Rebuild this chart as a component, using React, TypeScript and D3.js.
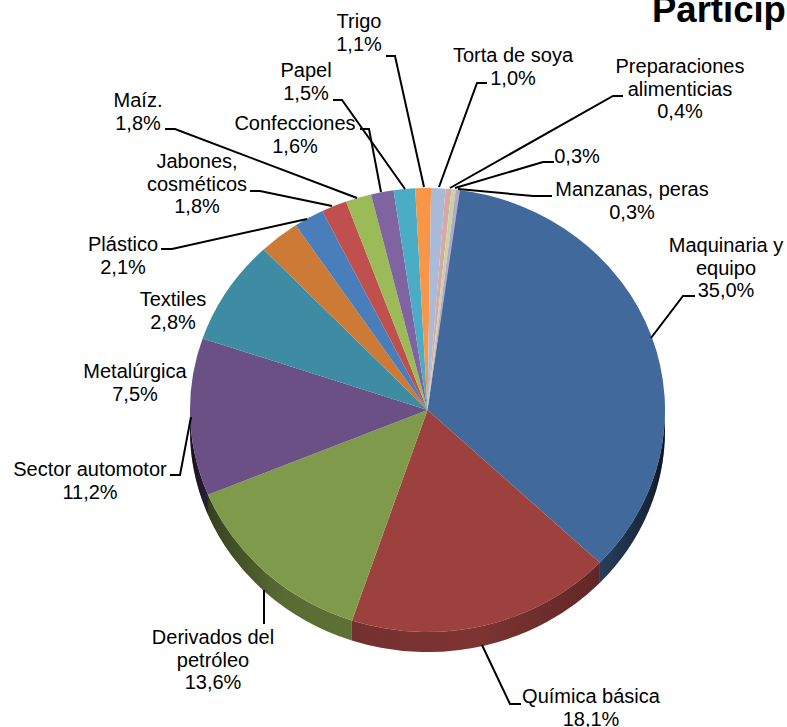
import React from "react";
import * as d3 from "d3";

const W = 787, H = 727;
const categories = ["Maquinaria y equipo","Química básica","Derivados del petróleo","Sector automotor","Metalúrgica","Textiles","Plástico","Jabones, cosméticos","Maíz.","Confecciones","Papel","Trigo","Torta de soya","Preparaciones alimenticias","0,3%","Manzanas, peras"];
const values = [35.0,18.1,13.6,11.2,7.5,2.8,2.1,1.8,1.8,1.6,1.5,1.1,1.0,0.4,0.3,0.3];
const colors = ["#41699b","#9d413f","#7f9a4a","#6a5084","#3d8ca3","#cd7a37","#4a7ebb","#c0504d","#9bbb59","#8064a2","#4bacc6","#f79646","#a9bbd9","#d9a7a5","#c4d6a0","#b5a8cb"];
const labelLines = [["Maquinaria y","equipo","35,0%"],["Química básica","18,1%"],["Derivados del","petróleo","13,6%"],["Sector automotor","11,2%"],["Metalúrgica","7,5%"],["Textiles","2,8%"],["Plástico","2,1%"],["Jabones,","cosméticos","1,8%"],["Maíz.","1,8%"],["Confecciones","1,6%"],["Papel","1,5%"],["Trigo","1,1%"],["Torta de soya","1,0%"],["Preparaciones","alimenticias","0,4%"],["0,3%"],["Manzanas, peras","0,3%"]];
// label placement: centre x, first baseline y
const labelPos = [[726,252],[591,703],[213,644],[90,476],[135,378],[173,306],[123,251],[197,168],[138,107],[295,130],[306,77],[359,28],[513,62],[680,73],[577,163],[632,196]];
const leaders: (number[][] | null)[] = [
  [[695,296],[683,296],[651,338]],
  [[521,704],[510,704],[482,645]],
  [[264,624],[264,590]],
  [[170,475],[180,475],[191,417]],
  null, null,
  [[161,249],[172,249],[307,219]],
  [[250,191],[260,191],[332,206]],
  [[165,129],[175,129],[357,198]],
  [[360,129],[369,129],[381,192]],
  [[333,100],[342,100],[405,189]],
  [[386,56],[395,56],[424,187]],
  [[487,83],[477,83],[439,187]],
  [[623,96],[613,96],[450,188]],
  [[554,162],[543,162],[455,188]],
  [[552,196],[533,196],[458,189]],
];

const cx = 427.5, cy = 410, rx = 237.5, ry = 222, depth = 20;
const startDeg = 7.6;
const rad = (d: number) => (d * Math.PI) / 180;
// The reference is drawn in perspective, which pushes angles clockwise around the far upper-left.
const warp = (a: number) => {
  const deg = (a * 180) / Math.PI - startDeg + 7.6;
  return a + rad(1.6 * Math.exp(-Math.pow((deg - 315) / 40, 2)));
};

export default function App() {
  const pie = d3.pie<number>().sort(null).startAngle(rad(startDeg)).endAngle(rad(startDeg + 360));
  const slices = pie(values).map((s) => ({ ...s, startAngle: warp(s.startAngle), endAngle: warp(s.endAngle) }));
  const arc = d3.arc<d3.PieArcDatum<number>>().innerRadius(0).outerRadius(1);
  const pt = (a: number, dy = 0) => [cx + rx * Math.sin(a), cy - ry * Math.cos(a) + dy];
  const sidePath = (a0: number, a1: number) => {
    const s = Math.max(a0, Math.PI / 2), e = Math.min(a1, (3 * Math.PI) / 2);
    if (s >= e) return null;
    const p0 = pt(s), p1 = pt(e), p2 = pt(e, depth), p3 = pt(s, depth);
    return `M${p0}A${rx},${ry} 0 0 1 ${p1}L${p2}A${rx},${ry} 0 0 0 ${p3}Z`;
  };
  const line = d3.line();
  return (
    <svg width={W} height={H} style={{ position: "absolute", left: 0, top: 0, background: "#fff" }} fontFamily="'Liberation Sans', Arial, sans-serif">
      <defs>
        <linearGradient id="shade" gradientUnits="userSpaceOnUse" x1={cx - rx} x2={cx + rx} y1={0} y2={0}>
          <stop offset="0" stopColor="#000" stopOpacity="0.78" />
          <stop offset="0.05" stopColor="#000" stopOpacity="0.55" />
          <stop offset="0.2" stopColor="#000" stopOpacity="0.3" />
          <stop offset="0.6" stopColor="#000" stopOpacity="0.2" />
          <stop offset="0.85" stopColor="#000" stopOpacity="0.38" />
          <stop offset="0.97" stopColor="#000" stopOpacity="0.65" />
          <stop offset="1" stopColor="#000" stopOpacity="0.8" />
        </linearGradient>
      </defs>
      <text x={652} y={22} fontSize={36.5} fontWeight="bold" fill="#000">Particip</text>
      {slices.map((s, i) => {
        const d = sidePath(s.startAngle, s.endAngle);
        return d ? (
          <g key={i}>
            <path d={d} fill={colors[i]} />
            <path d={d} fill="url(#shade)" />
          </g>
        ) : null;
      })}
      <g transform={`translate(${cx},${cy}) scale(${rx},${ry})`}>
        {slices.map((s, i) => (
          <path key={i} d={arc(s) as string} fill={colors[i]} />
        ))}
      </g>
      {leaders.map((l, i) =>
        l ? <path key={i} d={line(l as [number, number][]) as string} fill="none" stroke="#000" strokeWidth={2} /> : null
      )}
      {labelLines.map((ls, i) => (
        <text key={categories[i]} textAnchor="middle" fontSize={20} fill="#000">
          {ls.map((t, j) => (
            <tspan key={j} x={labelPos[i][0]} y={labelPos[i][1] + j * 22.5}>{t}</tspan>
          ))}
        </text>
      ))}
    </svg>
  );
}
